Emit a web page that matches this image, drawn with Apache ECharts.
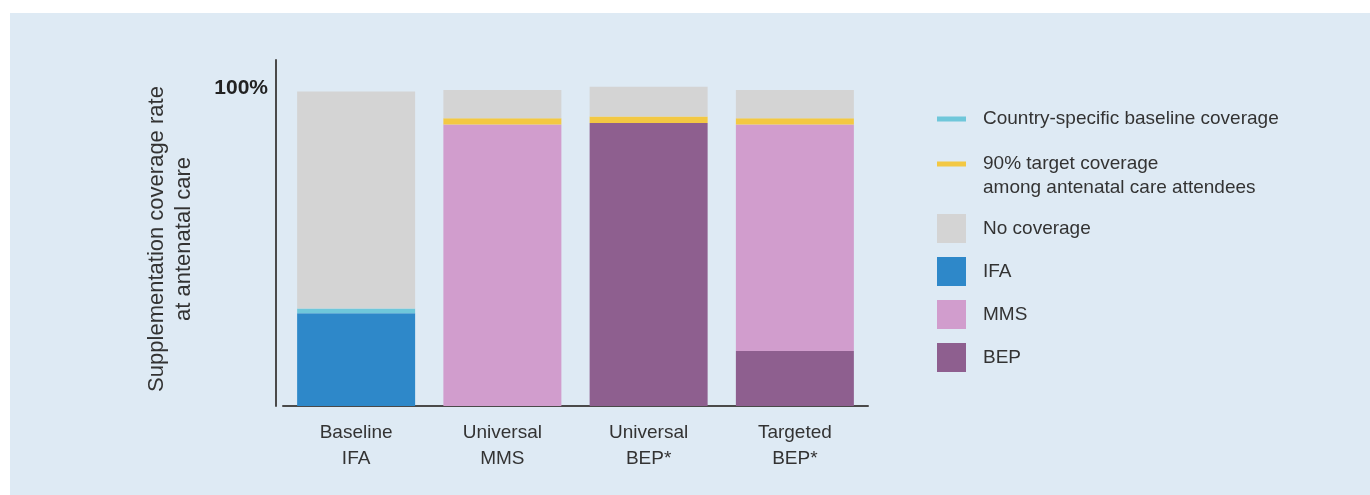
<!DOCTYPE html>
<html>
<head>
<meta charset="utf-8">
<script src="https://cdn.jsdelivr.net/npm/echarts@6/dist/echarts.min.js"></script>
<style>
  html, body { margin: 0; padding: 0; background: #ffffff; }
  #chart { width: 1370px; height: 495px; }
</style>
</head>
<body>
<div id="chart"></div>
<script>
// Supplementation scenarios along the x axis
const categories = ['Baseline\nIFA', 'Universal\nMMS', 'Universal\nBEP*', 'Targeted\nBEP*'];

// Coverage shares (% of antenatal care attendees), stacked bottom to top
const ifa        = [29.5, 0, 0, 0];
const bep        = [0, 0, 90, 17.5];
const mms        = [0, 89.5, 0, 72];
const baseline   = [1.5, 0, 0, 0];   // country-specific baseline coverage band
const target     = [0, 2, 2, 2];     // 90% target coverage band
const noCoverage = [69, 9, 9.5, 9];

const yMax = 110;
const yTickLabels = { 100: '100%' };

const NAME_BASE = 'Country-specific baseline coverage';
const NAME_TARGET = '90% target coverage\namong antenatal care attendees';

const colors = {
  ifa: '#2e88c9',
  mms: '#d19dcd',
  bep: '#8e5f8f',
  base: '#6fc7da',
  target: '#f3c843',
  none: '#d4d4d4'
};

const FONT = '"Liberation Sans", Arial, Helvetica, sans-serif';

function barSeries(name, data, color) {
  return {
    name: name,
    type: 'bar',
    stack: 'coverage',
    data: data,
    barWidth: 118,
    itemStyle: { color: color },
    emphasis: { disabled: true }
  };
}

const chart = echarts.init(document.getElementById('chart'), null, { renderer: 'canvas' });

const legendText = { fontFamily: FONT, fontSize: 19, color: '#333', lineHeight: 24, padding: [0, 0, 0, 12] };

chart.setOption({
  backgroundColor: '#ffffff',
  animation: false,
  textStyle: { fontFamily: FONT },
  graphic: [{
    type: 'rect',
    z: -10,
    silent: true,
    shape: { x: 10, y: 13, width: 1360, height: 482 },
    style: { fill: '#deeaf4' }
  }],
  grid: { left: 283, right: 502, top: 60, bottom: 89, containLabel: false },
  legend: [
    {
      orient: 'vertical', left: 937, top: 107, padding: 0,
      itemWidth: 29, itemHeight: 5,
      selectedMode: false,
      data: [{ name: NAME_BASE, icon: 'rect' }],
      textStyle: legendText
    },
    {
      // blank first line keeps the swatch level with "90% target coverage"
      orient: 'vertical', left: 937, top: 128, padding: 0,
      itemWidth: 29, itemHeight: 5,
      selectedMode: false,
      data: [{ name: NAME_TARGET, icon: 'rect' }],
      formatter: function (name) { return '\u00a0\n' + name; },
      textStyle: legendText
    },
    {
      orient: 'vertical', left: 937, top: 214, padding: 0,
      itemWidth: 29, itemHeight: 29, itemGap: 14,
      selectedMode: false,
      data: [
        { name: 'No coverage', icon: 'rect' },
        { name: 'IFA', icon: 'rect' },
        { name: 'MMS', icon: 'rect' },
        { name: 'BEP', icon: 'rect' }
      ],
      textStyle: legendText
    }
  ],
  xAxis: {
    type: 'category',
    data: categories,
    axisLine: { show: true, lineStyle: { color: '#4a4a4a', width: 2 } },
    axisTick: { show: false },
    axisLabel: { fontFamily: FONT, fontSize: 19, lineHeight: 26, color: '#333', margin: 14 }
  },
  yAxis: {
    type: 'value',
    min: 0,
    max: yMax,
    interval: 10,
    offset: 7,
    name: 'Supplementation coverage rate\nat antenatal care',
    nameLocation: 'middle',
    nameGap: 79,
    nameTextStyle: { fontFamily: FONT, fontSize: 22, lineHeight: 27, color: '#333', padding: [0, 12, 0, 0] },
    axisLine: { show: true, lineStyle: { color: '#4a4a4a', width: 2 } },
    axisTick: { show: false },
    splitLine: { show: false },
    axisLabel: {
      fontFamily: FONT, fontSize: 21, fontWeight: 'bold', color: '#222', margin: 8,
      verticalAlign: 'bottom', lineHeight: 6,
      formatter: function (v) { return yTickLabels[v] || ''; }
    }
  },
  series: [
    barSeries('IFA', ifa, colors.ifa),
    barSeries('BEP', bep, colors.bep),
    barSeries('MMS', mms, colors.mms),
    barSeries(NAME_BASE, baseline, colors.base),
    barSeries(NAME_TARGET, target, colors.target),
    barSeries('No coverage', noCoverage, colors.none)
  ]
});
</script>
</body>
</html>
